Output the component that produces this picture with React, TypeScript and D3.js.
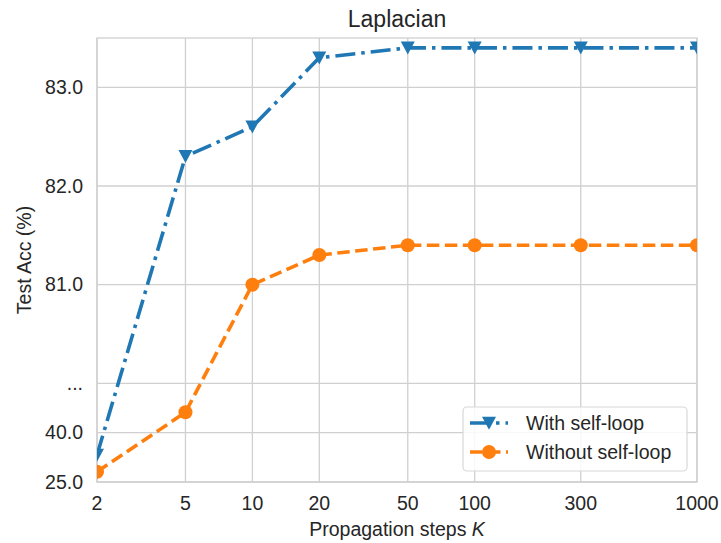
import React from "react";
import * as d3 from "d3";

const steps = [2, 5, 10, 20, 50, 100, 300, 1000];
const withSelfLoop = [33.2, 82.3, 82.6, 83.3, 83.4, 83.4, 83.4, 83.4];
const withoutSelfLoop = [28.1, 56.5, 81.0, 81.3, 81.4, 81.4, 81.4, 81.4];
const yTickValues = [25, 40, 80, 81, 82, 83];
const yTickLabels = ["25.0", "40.0", "...", "81.0", "82.0", "83.0"];
const xTickLabels = ["2", "5", "10", "20", "50", "100", "300", "1000"];
const seriesNames = ["With self-loop", "Without self-loop"];

const W = 721;
const H = 543;
const M = { left: 97, right: 697, top: 38, bottom: 482 };
const FONT = "'Liberation Sans', Arial, Helvetica, sans-serif";
const TXT = "#262626";
const GRID = "#d0d0d0";
const BLUE = "#1f77b4";
const ORANGE = "#ff7f0e";

// broken axis: values below 80 are compressed into [79, 80]
const lowMap = d3.scaleLinear().domain([25, 40, 80]).range([79, 79.5, 80]);
const toAxis = (v: number) => (v >= 80 ? v : lowMap(v));

const x = d3.scaleLog().domain([2, 1000]).range([M.left, M.right]);
const y = d3.scaleLinear().domain([79, 83.5]).range([M.bottom, M.top]);

const tri = (cx: number, cy: number, s = 7) =>
  `M${cx - s},${cy - s * 0.9}L${cx + s},${cy - s * 0.9}L${cx},${cy + s * 0.95}Z`;

export default function App() {
  const line = d3
    .line<number>()
    .x((_, i) => x(steps[i]))
    .y((d) => y(toAxis(d)));

  const legX = 463;
  const legY = 407;
  const legW = 224;
  const legH = 64;
  const row1 = 423;
  const row2 = 452;
  const hx0 = 470;
  const hx1 = 508;
  const hxm = (hx0 + hx1) / 2;

  return (
    <svg width={W} height={H} style={{ position: "absolute", left: 0, top: 0, background: "#fff" }} fontFamily={FONT}>
      <defs>
        <clipPath id="plotclip">
          <rect x={M.left} y={M.top} width={M.right - M.left} height={M.bottom - M.top} />
        </clipPath>
      </defs>
      <rect x={0} y={0} width={W} height={H} fill="#fff" />
      {/* grid */}
      {steps.map((s, i) => (
        <line key={"gx" + i} x1={x(s)} x2={x(s)} y1={M.top} y2={M.bottom} stroke={GRID} strokeWidth={1.3} />
      ))}
      {yTickValues.map((v, i) => (
        <line key={"gy" + i} x1={M.left} x2={M.right} y1={y(toAxis(v))} y2={y(toAxis(v))} stroke={GRID} strokeWidth={1.3} />
      ))}
      {/* spines */}
      <rect x={M.left} y={M.top} width={M.right - M.left} height={M.bottom - M.top} fill="none" stroke={GRID} strokeWidth={1.3} />

      <g clipPath="url(#plotclip)">
        <path d={line(withSelfLoop) || ""} fill="none" stroke={BLUE} strokeWidth={3.6} strokeDasharray="20,6,3.5,6" />
        <path d={line(withoutSelfLoop) || ""} fill="none" stroke={ORANGE} strokeWidth={3.6} strokeDasharray="12.5,5.5" />
        {withSelfLoop.map((v, i) => (
          <path key={"m1" + i} d={tri(x(steps[i]), y(toAxis(v)))} fill={BLUE} />
        ))}
        {withoutSelfLoop.map((v, i) => (
          <circle key={"m2" + i} cx={x(steps[i])} cy={y(toAxis(v))} r={7} fill={ORANGE} />
        ))}
      </g>

      {/* y tick labels */}
      {yTickValues.map((v, i) => (
        <text key={"yl" + i} x={83} y={y(toAxis(v))} dy="0.35em" textAnchor="end" fontSize={19.5} fill={TXT}>
          {yTickLabels[i]}
        </text>
      ))}
      {/* x tick labels */}
      {steps.map((s, i) => (
        <text key={"xl" + i} x={x(s)} y={510} textAnchor="middle" fontSize={19.5} fill={TXT}>
          {xTickLabels[i]}
        </text>
      ))}
      {/* axis labels */}
      <text x={(M.left + M.right) / 2} y={536} textAnchor="middle" fontSize={19.5} fill={TXT}>
        Propagation steps <tspan fontStyle="italic">K</tspan>
      </text>
      <text
        transform={`translate(31,${(M.top + M.bottom) / 2}) rotate(-90)`}
        textAnchor="middle"
        fontSize={19.5}
        fill={TXT}
      >
        Test Acc (%)
      </text>
      {/* title */}
      <text x={(M.left + M.right) / 2} y={27} textAnchor="middle" fontSize={23} fill={TXT}>
        Laplacian
      </text>

      {/* legend */}
      <rect x={legX} y={legY} width={legW} height={legH} rx={4} fill="#fff" fillOpacity={0.85} stroke="#d8d8d8" strokeWidth={1.2} />
      <line x1={hx0} x2={hx1} y1={row1} y2={row1} stroke={BLUE} strokeWidth={3.6} strokeDasharray="20,6,3.5,6" />
      <path d={tri(hxm, row1)} fill={BLUE} />
      <line x1={hx0} x2={hx1} y1={row2} y2={row2} stroke={ORANGE} strokeWidth={3.6} strokeDasharray="12.5,5.5" />
      <circle cx={hxm} cy={row2} r={7} fill={ORANGE} />
      <text x={526} y={row1} dy="0.35em" fontSize={19.5} fill={TXT}>
        {seriesNames[0]}
      </text>
      <text x={526} y={row2} dy="0.35em" fontSize={19.5} fill={TXT}>
        {seriesNames[1]}
      </text>
    </svg>
  );
}
